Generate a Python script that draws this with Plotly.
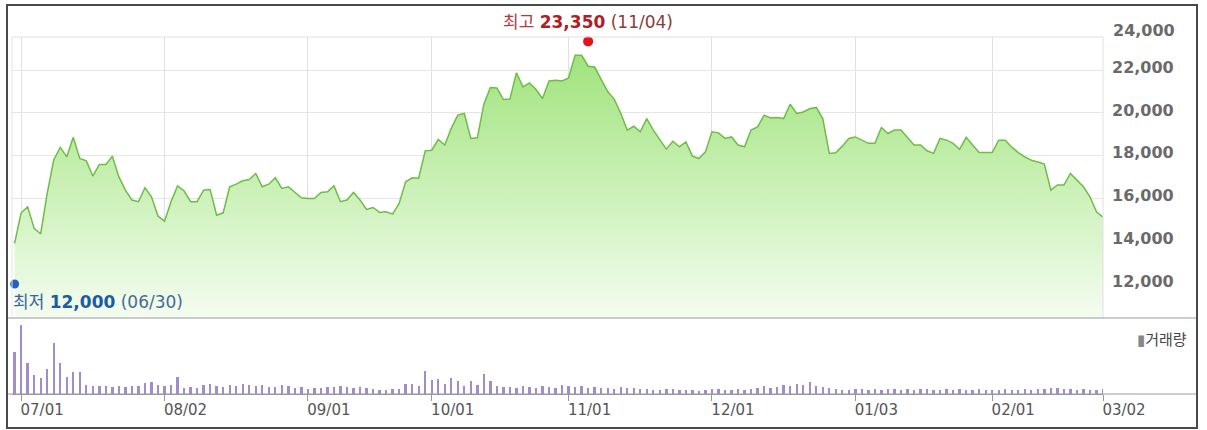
import plotly.graph_objects as go
import pandas as pd

# ---------------- data ----------------
holidays = ["2010-09-21", "2010-09-22", "2010-09-23", "2010-12-31",
            "2011-02-02", "2011-02-03", "2011-02-04", "2011-03-01"]
dates = [d.strftime("%Y-%m-%d") for d in pd.bdate_range("2010-06-30", "2011-03-02")
         if d.strftime("%Y-%m-%d") not in holidays]

close = [
    13900, 15330, 15610, 14600, 14340, 16240, 17800, 18390, 17950, 18860,
    17870, 17760, 17050, 17590, 17590, 17980, 17010, 16390, 15930, 15850,
    16500, 16080, 15180, 14940, 15850, 16590, 16360, 15850, 15850, 16390,
    16420, 15220, 15330, 16550, 16670, 16830, 16890, 17170, 16550, 16670,
    16970, 16470, 16550, 16310, 16030, 16000, 16000, 16280, 16310, 16590,
    15850, 15930, 16280, 15930, 15490, 15580, 15350, 15380, 15270, 15770,
    16780, 16970, 16950, 18230, 18260, 18760, 18500, 19280, 19900, 19980,
    18810, 18840, 20410, 21190, 21170, 20630, 20650, 21880, 21220, 21410,
    21100, 20680, 21500, 21530, 21500, 21640, 22700, 22700, 22190, 22150,
    21600, 21000, 20650, 19990, 19200, 19380, 19120, 19740, 19200, 18730,
    18310, 18680, 18420, 18650, 17980, 17870, 18180, 19120, 19070, 18810,
    18880, 18500, 18420, 19200, 19350, 19900, 19770, 19790, 19740, 20410,
    19980, 20050, 20200, 20260, 19740, 18110, 18140, 18450, 18810, 18880,
    18730, 18580, 18580, 19320, 19040, 19200, 19200, 18860, 18500, 18500,
    18230, 18110, 18810, 18730, 18580, 18300, 18860, 18500, 18150, 18150,
    18150, 18730, 18720, 18400, 18150, 17950, 17790, 17710, 17610, 16390,
    16630, 16630, 17170, 16860, 16550, 16080, 15380, 15120,
]

volume = [  # thousand shares
    420, 690, 310, 190, 160, 250, 510, 310, 170, 220,
    220, 90, 80, 80, 80, 70, 80, 70, 80, 80,
    110, 120, 90, 80, 90, 170, 60, 70, 60, 90,
    100, 80, 70, 90, 80, 100, 90, 80, 90, 70,
    70, 90, 80, 60, 70, 50, 60, 60, 70, 70,
    80, 70, 60, 70, 60, 50, 40, 40, 50, 50,
    100, 100, 80, 230, 140, 150, 100, 160, 130, 80,
    130, 90, 200, 130, 80, 70, 70, 60, 80, 70,
    60, 80, 70, 60, 90, 80, 70, 80, 60, 70,
    60, 60, 50, 70, 60, 60, 50, 50, 40, 40,
    50, 50, 40, 40, 40, 30, 40, 50, 50, 40,
    40, 50, 40, 50, 60, 80, 60, 70, 90, 80,
    100, 90, 120, 80, 70, 60, 50, 40, 40, 50,
    50, 40, 50, 40, 50, 50, 40, 50, 40, 50,
    50, 40, 40, 50, 40, 50, 40, 40, 50, 40,
    40, 40, 50, 40, 40, 50, 40, 50, 50, 60,
    60, 50, 50, 40, 50, 40, 40, 50,
]

tick_dates = ["2010-07-01", "2010-08-02", "2010-09-01", "2010-10-01", "2010-11-01",
              "2010-12-01", "2011-01-03", "2011-02-01", "2011-03-02"]
tick_text = ["07/01", "08/02", "09/01", "10/01", "11/01", "12/01", "01/03", "02/01", "03/02"]

price_ticks = [12000, 14000, 16000, 18000, 20000, 22000]
extra_price_label = 24000

high_date, high_value = "2010-11-04", 23350
low_date, low_value = "2010-06-30", 12000

assert len(dates) == len(close) == len(volume)

# ---------------- geometry helpers ----------------
W, H = 1207, 430
L, R, T, B = 12, 1103, 37, 394
SPLIT = 318
pw, ph = R - L, B - T


def px_x(px):
    return (px - L) / pw


def px_y(py):
    return (B - py) / ph


split = px_y(SPLIT)
Y_RANGE = [10409, 23555]
FONT = "DejaVu Sans, Noto Sans CJK KR, sans-serif"
TICKFONT = dict(family=FONT, size=16, color="#6a6a6a", weight="bold")

fig = go.Figure()

fig.add_trace(go.Scatter(
    x=dates, y=close, mode="lines",
    line=dict(color="#6dbd47", width=1.5),
    fill="tozeroy",
    fillgradient=dict(type="vertical",
                      colorscale=[[0, "#f4fdf0"], [1, "#a0e37c"]],
                      start=10400, stop=22800),
    xaxis="x", yaxis="y", hoverinfo="skip", showlegend=False))

fig.add_trace(go.Scatter(
    x=[high_date], y=[high_value], mode="markers",
    marker=dict(color="#e3121b", size=10), cliponaxis=False,
    xaxis="x", yaxis="y", showlegend=False))
fig.add_trace(go.Scatter(
    x=[low_date], y=[low_value], mode="markers",
    marker=dict(color="#2360c0", size=9), cliponaxis=False,
    xaxis="x", yaxis="y", showlegend=False))

fig.add_trace(go.Bar(
    x=dates, y=volume, marker=dict(color="#a08dcc", line=dict(width=0)),
    width=0.36, xaxis="x2", yaxis="y2", showlegend=False))

xr = [-0.4, len(dates) - 1]

fig.update_layout(
    width=W, height=H,
    margin=dict(l=L, r=W - R, t=T, b=H - B),
    paper_bgcolor="white", plot_bgcolor="rgba(0,0,0,0)",
    font=dict(family=FONT, color="#555"),
    bargap=0,
    xaxis=dict(type="category", categoryorder="array", categoryarray=dates,
               range=xr, domain=[0, 1], anchor="y",
               tickvals=tick_dates, showticklabels=False, ticks="",
               showgrid=True, gridcolor="#e0e0e0", gridwidth=1,
               zeroline=False, showline=False),
    yaxis=dict(domain=[split, 1], range=Y_RANGE, side="right",
               tickvals=price_ticks, tickformat=",d", ticks="",
               ticklabelstandoff=8, ticklabelshift=-3, tickfont=TICKFONT,
               showgrid=True, gridcolor="#e6e6e6", gridwidth=1,
               zeroline=False, showline=False, anchor="x"),
    xaxis2=dict(type="category", categoryorder="array", categoryarray=dates,
                range=xr, domain=[0, 1], anchor="y2",
                tickvals=tick_dates, ticktext=tick_text,
                ticks="outside", ticklen=6, tickcolor="#999",
                ticklabelshift=21, ticklabelstandoff=-4,
                tickfont=dict(family=FONT, size=15, color="#555"),
                showline=True, linecolor="#999", linewidth=1,
                showgrid=False, zeroline=False),
    yaxis2=dict(domain=[0, split], range=[0, 760], showticklabels=False,
                showgrid=False, zeroline=False, ticks="", anchor="x2"),
)

shapes = [
    # top, left and right lines of price area
    dict(type="line", xref="paper", yref="paper", x0=0, x1=1, y0=1, y1=1,
         line=dict(color="#e0e0e0", width=1)),
    dict(type="line", xref="paper", yref="paper", x0=0, x1=0, y0=split, y1=1,
         line=dict(color="#e6e6e6", width=1)),
    dict(type="line", xref="paper", yref="paper", x0=1, x1=1, y0=split, y1=1,
         line=dict(color="#e0e0e0", width=1)),
    # panel separator and baseline across the frame
    dict(type="line", xref="paper", yref="paper", x0=px_x(7), x1=px_x(1197),
         y0=split, y1=split, line=dict(color="#9a9a9a", width=1)),
    dict(type="line", xref="paper", yref="paper", x0=px_x(7), x1=px_x(1197),
         y0=0, y1=0, line=dict(color="#9a9a9a", width=1)),
    # outer frame
    dict(type="rect", xref="paper", yref="paper", x0=px_x(7), x1=px_x(1197),
         y0=px_y(428), y1=px_y(5), line=dict(color="#4a4a4a", width=2)),
]
fig.update_layout(shapes=shapes)

# position of the 24,000 label on the price scale (above the plotting area)
y24 = split + (extra_price_label - Y_RANGE[0]) / (Y_RANGE[1] - Y_RANGE[0]) * (1 - split)

annotations = [
    dict(xref="paper", x=1, xshift=8, xanchor="left", yref="paper", y=y24,
         yanchor="middle", yshift=-3, text=f"{extra_price_label:,}", showarrow=False,
         font=TICKFONT),
    dict(xref="x", x=high_date, yref="y", y=high_value, yshift=19,
         text=('<span style="color:#b23a3a">최고</span> '
               '<span style="color:#b01e24"><b>23,350</b></span> '
               '<span style="color:#8a3b3b">(11/04)</span>'),
         showarrow=False, font=dict(family=FONT, size=17)),
    dict(xref="x", x=low_date, yref="y", y=low_value, yshift=-18, xanchor="left",
         xshift=-4,
         text=('<span style="color:#3a62a0">최저</span> '
               '<span style="color:#1d5aa6"><b>12,000</b></span> '
               '<span style="color:#4a6a98">(06/30)</span>'),
         showarrow=False, font=dict(family=FONT, size=17)),
    dict(xref="paper", x=px_x(1135), xanchor="left", yref="paper", y=px_y(351),
         text='<span style="color:#888">▮</span>거래량', showarrow=False,
         font=dict(family=FONT, size=15, color="#444")),
]
fig.update_layout(annotations=annotations)

fig.write_html("out.html")
